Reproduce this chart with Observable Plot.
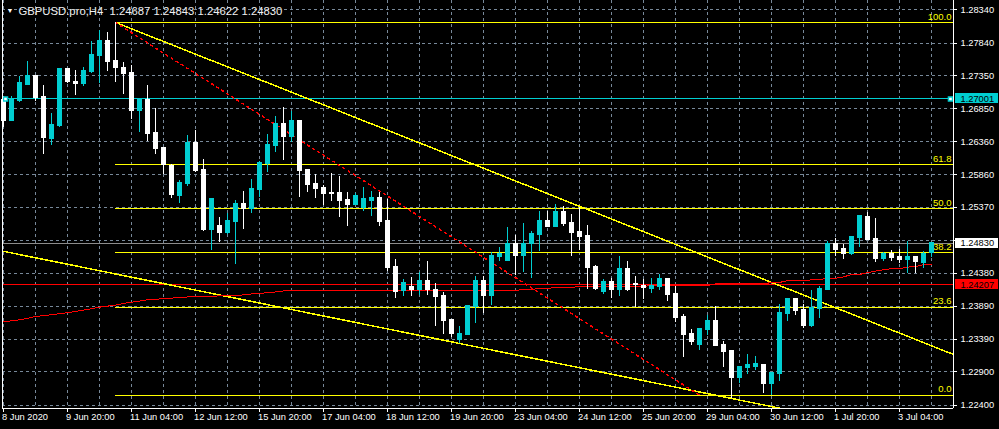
<!DOCTYPE html>
<html><head><meta charset="utf-8">
<script src="https://cdn.jsdelivr.net/npm/d3@7"></script>
<script src="https://cdn.jsdelivr.net/npm/@observablehq/plot@0.6"></script>
<style>html,body{margin:0;padding:0;background:#000;overflow:hidden}#chart svg{display:block}</style>
</head><body><div id="chart"></div>
<script>
const symbol = "GBPUSD.pro";
const timeframe = "H4";

const opens = [
1.26978,1.26677,1.26963,1.27203,1.27353,1.27023,1.26392,1.26587,1.27444,1.27263,
1.27218,1.27413,1.27639,1.27879,1.27564,1.27473,1.27398,1.26813,1.26978,1.26482,
1.26257,1.25986,1.25536,1.25716,1.26332,1.25926,1.25025,1.25085,1.24980,1.25145,
1.25416,1.25340,1.25626,1.26031,1.26287,1.26617,1.26422,1.26677,1.25926,1.25716,
1.25656,1.25581,1.25581,1.25476,1.25400,1.25355,1.25461,1.25506,1.25160,1.24469,
1.24109,1.24169,1.24124,1.24259,1.24124,1.24033,1.23673,1.23373,1.23448,1.23868,
1.24259,1.24033,1.24619,1.24559,1.24815,1.24634,1.24815,1.24950,1.25160,1.25070,
1.25295,1.25130,1.24995,1.24935,1.24469,1.24094,1.24244,1.24124,1.24439,1.24214,
1.24184,1.24139,1.24169,1.24289,1.24064,1.23718,1.23463,1.23297,1.23523,1.23658,
1.23297,1.23207,1.22802,1.22952,1.22967,1.22997,1.22712,1.22862,1.23763,1.23988,
1.23823,1.23583,1.23838,1.24124,1.24815,1.24740,1.24664,1.24905,1.25220,1.24890,
1.24589,1.24664,1.24619,1.24574,1.24619,1.24529,1.24687];

const highs = [
1.27038,1.27038,1.27338,1.27564,1.27353,1.27203,1.26783,1.27459,1.27459,1.27428,
1.27473,1.27864,1.28029,1.27999,1.28150,1.27549,1.27503,1.26978,1.27203,1.26858,
1.26272,1.26016,1.25776,1.26452,1.26527,1.26092,1.25506,1.25220,1.25280,1.25476,
1.25611,1.25791,1.26061,1.26467,1.26737,1.26873,1.26813,1.26677,1.25941,1.25866,
1.25701,1.25881,1.25836,1.25596,1.25581,1.25671,1.25611,1.25596,1.25491,1.24589,
1.24289,1.24319,1.24394,1.24559,1.24229,1.24094,1.23673,1.23583,1.23898,1.24334,
1.24334,1.24694,1.24770,1.25070,1.24950,1.25130,1.25010,1.25310,1.25310,1.25416,
1.25385,1.25265,1.25370,1.25100,1.24499,1.24289,1.24304,1.24634,1.24559,1.24334,
1.24289,1.24304,1.24364,1.24304,1.24184,1.23763,1.23538,1.23538,1.23748,1.23883,
1.23357,1.23207,1.22967,1.23162,1.23132,1.22997,1.22877,1.23913,1.23988,1.24003,
1.23913,1.24124,1.24184,1.24860,1.24905,1.24815,1.24935,1.25235,1.25295,1.25205,
1.24694,1.24725,1.24740,1.24860,1.24619,1.24709,1.24843];

const lows = [
1.26572,1.26662,1.26948,1.27203,1.26963,1.26167,1.26302,1.26572,1.27233,1.27053,
1.27188,1.27383,1.27233,1.27413,1.27248,1.27068,1.26692,1.26497,1.26362,1.26167,
1.25866,1.25506,1.25431,1.25686,1.25896,1.25010,1.24725,1.24845,1.24965,1.24514,
1.25040,1.25280,1.25521,1.25896,1.26197,1.26076,1.26347,1.25521,1.25596,1.25506,
1.25400,1.25461,1.25220,1.25085,1.25400,1.25310,1.25235,1.25085,1.24409,1.24003,
1.24033,1.24033,1.24049,1.24049,1.23583,1.23463,1.23418,1.23327,1.23448,1.23628,
1.23778,1.23898,1.24559,1.24559,1.24349,1.24394,1.24304,1.24709,1.25070,1.25070,
1.25085,1.24634,1.24725,1.24139,1.24124,1.24064,1.24003,1.24033,1.24109,1.23868,
1.23988,1.24079,1.24124,1.23958,1.23643,1.23117,1.23297,1.23222,1.23448,1.23282,
1.22967,1.22501,1.22727,1.22862,1.22922,1.22576,1.22546,1.22757,1.23658,1.23748,
1.23553,1.23568,1.23703,1.24124,1.24634,1.24589,1.24649,1.24770,1.24875,1.24544,
1.24559,1.24559,1.24529,1.24379,1.24379,1.24454,1.24622];

const closes = [
1.26677,1.26978,1.27233,1.27353,1.27008,1.26407,1.26602,1.27444,1.27263,1.27218,
1.27428,1.27654,1.27879,1.27549,1.27459,1.27383,1.26813,1.26978,1.26467,1.26242,
1.26001,1.25551,1.25731,1.26332,1.25911,1.25025,1.25491,1.24980,1.25160,1.25416,
1.25340,1.25641,1.26046,1.26302,1.26617,1.26422,1.26677,1.25911,1.25701,1.25641,
1.25566,1.25566,1.25461,1.25400,1.25536,1.25491,1.25506,1.25145,1.24454,1.24094,
1.24229,1.24124,1.24259,1.24124,1.24018,1.23658,1.23463,1.23463,1.23883,1.24259,
1.24033,1.24634,1.24664,1.24815,1.24634,1.24815,1.24965,1.25160,1.25070,1.25295,
1.25115,1.24980,1.24920,1.24454,1.24139,1.24244,1.24124,1.24439,1.24124,1.24199,
1.24154,1.24184,1.24289,1.24049,1.23703,1.23448,1.23342,1.23538,1.23658,1.23282,
1.23192,1.22802,1.22967,1.22997,1.23012,1.22712,1.22877,1.23778,1.23988,1.23808,
1.23583,1.23853,1.24139,1.24815,1.24725,1.24664,1.24920,1.25235,1.24875,1.24589,
1.24664,1.24604,1.24574,1.24619,1.24544,1.24664,1.24830];

const maValues = [
1.23653,1.23668,1.23683,1.23703,1.23733,1.23744,1.23759,1.23774,1.23789,1.23808,
1.23828,1.23849,1.23873,1.23888,1.23903,1.23928,1.23948,1.23963,1.23984,1.23988,
1.24003,1.24008,1.24018,1.24026,1.24029,1.24034,1.24038,1.24041,1.24044,1.24049,
1.24056,1.24071,1.24079,1.24089,1.24101,1.24116,1.24119,1.24119,1.24119,1.24119,
1.24119,1.24119,1.24119,1.24119,1.24119,1.24119,1.24119,1.24119,1.24119,1.24119,
1.24119,1.24119,1.24119,1.24119,1.24119,1.24119,1.24119,1.24119,1.24119,1.24119,
1.24119,1.24119,1.24119,1.24124,1.24124,1.24139,1.24139,1.24154,1.24154,1.24169,
1.24169,1.24169,1.24184,1.24184,1.24184,1.24184,1.24184,1.24184,1.24184,1.24184,
1.24184,1.24199,1.24199,1.24199,1.24199,1.24199,1.24199,1.24199,1.24199,1.24221,
1.24221,1.24221,1.24221,1.24221,1.24221,1.24221,1.24244,1.24244,1.24269,1.24269,
1.24269,1.24284,1.24284,1.24308,1.24308,1.24326,1.24364,1.24364,1.24390,1.24414,
1.24435,1.24450,1.24450,1.24474,1.24484,1.24510,1.24510];

const timeTickIndex = [0, 8, 16, 24, 32, 40, 48, 56, 64, 72, 80, 88, 96, 104, 112];
const timeTickLabels = ["8 Jun 2020","9 Jun 20:00","11 Jun 04:00","12 Jun 12:00","15 Jun 20:00",
  "17 Jun 04:00","18 Jun 12:00","19 Jun 20:00","23 Jun 04:00","24 Jun 12:00","25 Jun 20:00",
  "29 Jun 04:00","30 Jun 12:00","1 Jul 20:00","3 Jul 04:00"];
const gridEvery = 4;

const priceTicks = [1.28340,1.27840,1.27350,1.26850,1.26360,1.25860,1.25370,1.24870,1.24380,1.23890,1.23390,1.22900,1.22400];

const fibLevels = [100.0, 61.8, 50.0, 38.2, 23.6, 0.0];
const fibPrices = [1.28150, 1.26010, 1.25350, 1.24690, 1.23870, 1.22550];
const fibAnchorIndex = [14, 87];

const upperTrend = {i: [14, 104], price: [1.28150, 1.23864]};
const lowerTrend = {i: [57, 91], price: [1.23327, 1.22501]};

const cyanLevel = 1.27001;
const redLevel = 1.24207;

// colours
const BULL = "#00CED1", BEAR = "#ffffff", GRID = "#778899", YEL = "#ffff00", RED = "#ff0000";
const CRISP = "crispEdges";

const candles = opens.map((o, i) => ({i, open: o, high: highs[i], low: lows[i], close: closes[i], ma: maValues[i],
  bull: closes[i] >= o}));
const last = candles[candles.length - 1];
const bid = last.close;

const xDomain = [-0.125, 118.75];
const yDomain = [1.2235, 1.2848];
const plotH = 408;
const ppx = (yDomain[1] - yDomain[0]) / plotH;   // price per pixel
const kpx = (xDomain[1] - xDomain[0]) / (953 - 2); // index per pixel

function extend(tr, x0, x1) {
  const s = (tr.price[1] - tr.price[0]) / (tr.i[1] - tr.i[0]);
  return [{i: x0, p: tr.price[0] + s * (x0 - tr.i[0])}, {i: x1, p: tr.price[0] + s * (x1 - tr.i[0])}];
}

const gridIdx = candles.filter(d => d.i % gridEvery === 0).map(d => d.i);
const fib = fibLevels.map((l, j) => ({level: l, price: fibPrices[j]}));
const timeTicks = timeTickIndex.map((i, j) => ({i, label: timeTickLabels[j]}));
const boxes = [
  {price: cyanLevel, fill: BULL},
  {price: bid, fill: "#ffffff"},
  {price: redLevel, fill: RED}
];
// price labels hidden under a coloured price box are not drawn
const visibleTickLabels = priceTicks.filter(p => boxes.every(b => Math.abs(b.price - p) > 9 * ppx));
const fmt = v => v.toFixed(5);
const title = `${symbol},${timeframe}\u00a0\u00a0${fmt(last.open)} ${fmt(last.high)} ${fmt(last.low)} ${fmt(last.close)}`;

const chart = Plot.plot({
  width: 999, height: 429,
  marginTop: 0, marginBottom: 21, marginLeft: 2, marginRight: 46,
  x: {domain: xDomain, axis: null},
  y: {domain: yDomain, axis: null},
  style: {background: "#000", color: "#fff", fontFamily: "'Liberation Sans', Arial, sans-serif", fontSize: "9px", overflow: "visible"},
  marks: [
    // grid
    Plot.ruleX(gridIdx, {stroke: GRID, strokeDasharray: "3,3", shapeRendering: CRISP}),
    Plot.ruleY(priceTicks, {stroke: GRID, strokeDasharray: "3,3", shapeRendering: CRISP}),
    // fibonacci levels
    Plot.ruleY(fib, {y: "price", x1: fibAnchorIndex[0], x2: xDomain[1], stroke: YEL, shapeRendering: CRISP}),
    Plot.text(fib, {y: "price", x: xDomain[1], dx: -2, dy: -6, text: d => d.level.toFixed(1), textAnchor: "end", fill: YEL, fontSize: 9.5}),
    // horizontal levels
    Plot.ruleY([redLevel], {stroke: RED, shapeRendering: CRISP}),
    Plot.ruleY([bid], {stroke: "#8c8c8c", shapeRendering: CRISP}),
    Plot.ruleY([cyanLevel], {stroke: BULL, shapeRendering: CRISP}),
    // trend lines
    Plot.line(extend(upperTrend, upperTrend.i[0], xDomain[1]), {x: "i", y: "p", stroke: YEL, clip: true, shapeRendering: CRISP}),
    Plot.line(extend(lowerTrend, xDomain[0], xDomain[1]), {x: "i", y: "p", stroke: YEL, clip: true, shapeRendering: CRISP}),
    Plot.line([{i: fibAnchorIndex[0], p: fibPrices[0]}, {i: fibAnchorIndex[1], p: fibPrices[5]}],
      {x: "i", y: "p", stroke: RED, strokeDasharray: "2,4", shapeRendering: CRISP}),
    // moving average
    Plot.line(candles, {x: "i", y: "ma", stroke: RED, strokeWidth: 1, shapeRendering: CRISP}),
    // candles
    Plot.ruleX(candles, {x: "i", y1: "low", y2: "high", stroke: d => d.bull ? BULL : BEAR, shapeRendering: CRISP}),
    Plot.rect(candles, {x1: d => d.i - 0.3125, x2: d => d.i + 0.3125, y1: "open", y2: "close",
      fill: d => d.bull ? BULL : BEAR, insetTop: -0.5, insetBottom: -0.5, shapeRendering: CRISP}),
    // selected-object squares
    Plot.dot([cyanLevel], {x: xDomain[0], y: d => d, dx: 3, symbol: "square", r: 2.3, fill: "#fff", stroke: BULL}),
    Plot.dot([cyanLevel], {x: xDomain[1], y: d => d, dx: -3, symbol: "square", r: 2.3, fill: "#fff", stroke: BULL}),
    // frame
    Plot.ruleX([xDomain[0], xDomain[1]], {stroke: "#fff", shapeRendering: CRISP}),
    Plot.ruleY([yDomain[0]], {stroke: "#fff", shapeRendering: CRISP}),
    // right price axis
    Plot.ruleY(priceTicks, {x1: xDomain[1], x2: xDomain[1] + 4 * kpx, stroke: "#fff", shapeRendering: CRISP}),
    Plot.text(visibleTickLabels, {x: xDomain[1], y: d => d, dx: 7, text: fmt, textAnchor: "start", fill: "#fff", fontSize: 9.3}),
    Plot.rect(boxes, {x1: xDomain[1] + 2 * kpx, x2: xDomain[1] + 45 * kpx, y1: d => d.price - 5 * ppx, y2: d => d.price + 5 * ppx, fill: "fill", shapeRendering: CRISP}),
    Plot.text(boxes, {x: xDomain[1], y: "price", dx: 7, text: d => fmt(d.price), textAnchor: "start", fill: "#000", fontSize: 9.3}),
    // bottom time axis
    Plot.ruleX(timeTicks, {x: "i", y1: yDomain[0], y2: yDomain[0] - 4 * ppx, stroke: "#fff", shapeRendering: CRISP}),
    Plot.text(timeTicks, {x: "i", y: yDomain[0], dx: -1.5, dy: 9, text: "label", textAnchor: "start", fill: "#fff", fontSize: 9.3}),
    // title
    Plot.text(["\u25BC"], {x: xDomain[0], y: yDomain[1], dx: 7.5, dy: 10, text: d => d, fill: "#fff", fontSize: 7, textAnchor: "middle"}),
    Plot.text([title], {x: xDomain[0], y: yDomain[1], dx: 16, dy: 10.5, text: d => d, textAnchor: "start", fill: "#f0f0f0", fontSize: 11.3})
  ]
});
document.getElementById("chart").appendChild(chart);
</script>
</body></html>
